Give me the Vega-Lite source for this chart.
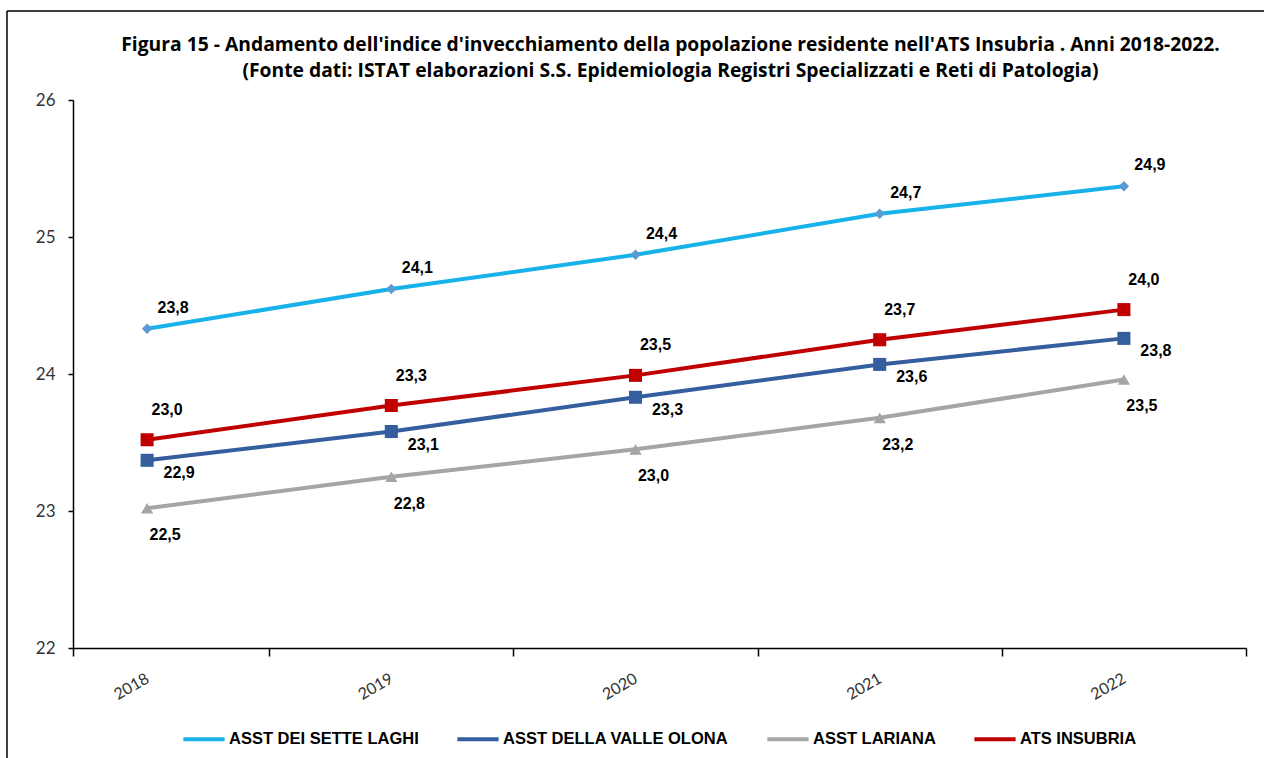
{
  "$schema": "https://vega.github.io/schema/vega-lite/v6.json",
  "width": 1173,
  "height": 548,
  "autosize": {"type": "none"},
  "padding": {"left": 73, "top": 100, "right": 18, "bottom": 110},
  "background": "white",
  "title": {
    "text": ["Figura  15 - Andamento dell'indice d'invecchiamento della popolazione residente nell'ATS Insubria . Anni 2018-2022.", "(Fonte dati: ISTAT elaborazioni  S.S. Epidemiologia Registri Specializzati e Reti di Patologia)"],
    "font": "Open Sans", "fontSize": 19.3, "fontWeight": "bold", "color": "#000000",
    "anchor": "middle", "frame": "group", "dx": 11, "offset": -71, "lineHeight": 26
  },
  "config": {"view": {"stroke": null}, "axis": {"grid": false}},
  "data": {"values": [
    {"anno": 2018, "serie": "ASST DEI SETTE LAGHI", "valore": 24.33, "etichetta": "23,8"},
    {"anno": 2019, "serie": "ASST DEI SETTE LAGHI", "valore": 24.62, "etichetta": "24,1"},
    {"anno": 2020, "serie": "ASST DEI SETTE LAGHI", "valore": 24.87, "etichetta": "24,4"},
    {"anno": 2021, "serie": "ASST DEI SETTE LAGHI", "valore": 25.17, "etichetta": "24,7"},
    {"anno": 2022, "serie": "ASST DEI SETTE LAGHI", "valore": 25.37, "etichetta": "24,9"},
    {"anno": 2018, "serie": "ASST DELLA VALLE OLONA", "valore": 23.37, "etichetta": "22,9"},
    {"anno": 2019, "serie": "ASST DELLA VALLE OLONA", "valore": 23.58, "etichetta": "23,1"},
    {"anno": 2020, "serie": "ASST DELLA VALLE OLONA", "valore": 23.83, "etichetta": "23,3"},
    {"anno": 2021, "serie": "ASST DELLA VALLE OLONA", "valore": 24.07, "etichetta": "23,6"},
    {"anno": 2022, "serie": "ASST DELLA VALLE OLONA", "valore": 24.26, "etichetta": "23,8"},
    {"anno": 2018, "serie": "ASST LARIANA", "valore": 23.02, "etichetta": "22,5"},
    {"anno": 2019, "serie": "ASST LARIANA", "valore": 23.25, "etichetta": "22,8"},
    {"anno": 2020, "serie": "ASST LARIANA", "valore": 23.45, "etichetta": "23,0"},
    {"anno": 2021, "serie": "ASST LARIANA", "valore": 23.68, "etichetta": "23,2"},
    {"anno": 2022, "serie": "ASST LARIANA", "valore": 23.96, "etichetta": "23,5"},
    {"anno": 2018, "serie": "ATS INSUBRIA", "valore": 23.52, "etichetta": "23,0"},
    {"anno": 2019, "serie": "ATS INSUBRIA", "valore": 23.77, "etichetta": "23,3"},
    {"anno": 2020, "serie": "ATS INSUBRIA", "valore": 23.99, "etichetta": "23,5"},
    {"anno": 2021, "serie": "ATS INSUBRIA", "valore": 24.25, "etichetta": "23,7"},
    {"anno": 2022, "serie": "ATS INSUBRIA", "valore": 24.47, "etichetta": "24,0"}
  ]},
  "layer": [
    {
      "mark": {"type": "line", "strokeWidth": 4},
      "encoding": {
        "x": {
          "field": "anno", "type": "quantitative",
          "scale": {"domain": [2017.6965, 2022.5], "zero": false, "nice": false},
          "axis": {
            "title": null, "grid": false,
            "values": [2017.6965, 2018.5, 2019.5, 2020.5, 2021.5, 2022.5],
            "labelExpr": "datum.value < 2018 ? '' : format(floor(datum.value), 'd')",
            "labelOffset": -126, "labelAngle": -30, "labelAlign": "right", "labelBaseline": "top",
            "tickSize": 8, "tickColor": "#000000", "tickWidth": 1.5,
            "domainColor": "#000000", "domainWidth": 1.5,
            "labelFont": "Lato", "labelFontSize": 16, "labelColor": "#333333", "labelPadding": 14,
            "labelOverlap": false, "labelBound": false, "labelFlush": false
          }
        },
        "y": {
          "field": "valore", "type": "quantitative",
          "scale": {"domain": [22, 26], "zero": false, "nice": false},
          "axis": {
            "title": null, "grid": false, "values": [22, 23, 24, 25, 26], "format": "d",
            "tickSize": 5, "tickColor": "#000000", "tickWidth": 1.5,
            "domainColor": "#000000", "domainWidth": 1.5,
            "labelFont": "Lato", "labelFontSize": 17, "labelColor": "#333333", "labelPadding": 13
          }
        },
        "color": {
          "field": "serie", "type": "nominal",
          "scale": {
            "domain": ["ASST DEI SETTE LAGHI", "ASST DELLA VALLE OLONA", "ASST LARIANA", "ATS INSUBRIA"],
            "range": ["#17b2ea", "#355e9e", "#a5a5a5", "#c00000"]
          },
          "legend": {
            "orient": "none", "legendX": 108, "legendY": 616, "direction": "horizontal", "title": null,
            "symbolType": "stroke", "symbolSize": 1700, "symbolStrokeWidth": 4,
            "labelFont": "Liberation Sans", "labelFontWeight": "bold", "labelFontSize": 16.5, "labelColor": "#000000",
            "labelLimit": 400, "columnPadding": 30, "labelOffset": 2
          }
        }
      }
    },
    {
      "transform": [{"filter": "datum.serie === 'ASST DEI SETTE LAGHI'"}],
      "mark": {"type": "point", "shape": "diamond", "filled": true, "opacity": 1, "color": "#5b9bd5", "size": 110},
      "encoding": {"x": {"field": "anno", "type": "quantitative"}, "y": {"field": "valore", "type": "quantitative"}}
    },
    {
      "transform": [{"filter": "datum.serie === 'ASST DELLA VALLE OLONA'"}],
      "mark": {"type": "point", "shape": "square", "filled": true, "opacity": 1, "color": "#355e9e", "size": 170},
      "encoding": {"x": {"field": "anno", "type": "quantitative"}, "y": {"field": "valore", "type": "quantitative"}}
    },
    {
      "transform": [{"filter": "datum.serie === 'ASST LARIANA'"}],
      "mark": {"type": "point", "shape": "triangle-up", "filled": true, "opacity": 1, "color": "#a5a5a5", "size": 150},
      "encoding": {"x": {"field": "anno", "type": "quantitative"}, "y": {"field": "valore", "type": "quantitative"}}
    },
    {
      "transform": [{"filter": "datum.serie === 'ATS INSUBRIA'"}],
      "mark": {"type": "point", "shape": "square", "filled": true, "opacity": 1, "color": "#c00000", "size": 170},
      "encoding": {"x": {"field": "anno", "type": "quantitative"}, "y": {"field": "valore", "type": "quantitative"}}
    },
    {
      "transform": [{"filter": "datum.serie === 'ASST DEI SETTE LAGHI'"}],
      "mark": {"type": "text", "font": "Liberation Sans", "fontWeight": "bold", "fontSize": 16, "color": "#000000", "dx": 26, "dy": -21},
      "encoding": {"x": {"field": "anno", "type": "quantitative"}, "y": {"field": "valore", "type": "quantitative"}, "text": {"field": "etichetta"}}
    },
    {
      "transform": [{"filter": "datum.serie === 'ASST DELLA VALLE OLONA'"}],
      "mark": {"type": "text", "font": "Liberation Sans", "fontWeight": "bold", "fontSize": 16, "color": "#000000", "dx": 32, "dy": 13},
      "encoding": {"x": {"field": "anno", "type": "quantitative"}, "y": {"field": "valore", "type": "quantitative"}, "text": {"field": "etichetta"}}
    },
    {
      "transform": [{"filter": "datum.serie === 'ASST LARIANA'"}],
      "mark": {"type": "text", "font": "Liberation Sans", "fontWeight": "bold", "fontSize": 16, "color": "#000000", "dx": 18, "dy": 27},
      "encoding": {"x": {"field": "anno", "type": "quantitative"}, "y": {"field": "valore", "type": "quantitative"}, "text": {"field": "etichetta"}}
    },
    {
      "transform": [{"filter": "datum.serie === 'ATS INSUBRIA'"}],
      "mark": {"type": "text", "font": "Liberation Sans", "fontWeight": "bold", "fontSize": 16, "color": "#000000", "dx": 20, "dy": -30},
      "encoding": {"x": {"field": "anno", "type": "quantitative"}, "y": {"field": "valore", "type": "quantitative"}, "text": {"field": "etichetta"}}
    },
    {
      "data": {"values": [{"bordo": "sinistro"}]},
      "mark": {"type": "rule", "color": "#000000", "strokeWidth": 1.5},
      "encoding": {
        "x": {"datum": 2017.4262, "type": "quantitative"},
        "y": {"datum": 26.65, "type": "quantitative"},
        "y2": {"datum": 21.19}
      }
    },
    {
      "data": {"values": [{"bordo": "superiore"}]},
      "mark": {"type": "rule", "color": "#000000", "strokeWidth": 1.5},
      "encoding": {
        "x": {"datum": 2017.4262, "type": "quantitative"},
        "x2": {"datum": 2022.58},
        "y": {"datum": 26.65, "type": "quantitative"}
      }
    }
  ]
}
